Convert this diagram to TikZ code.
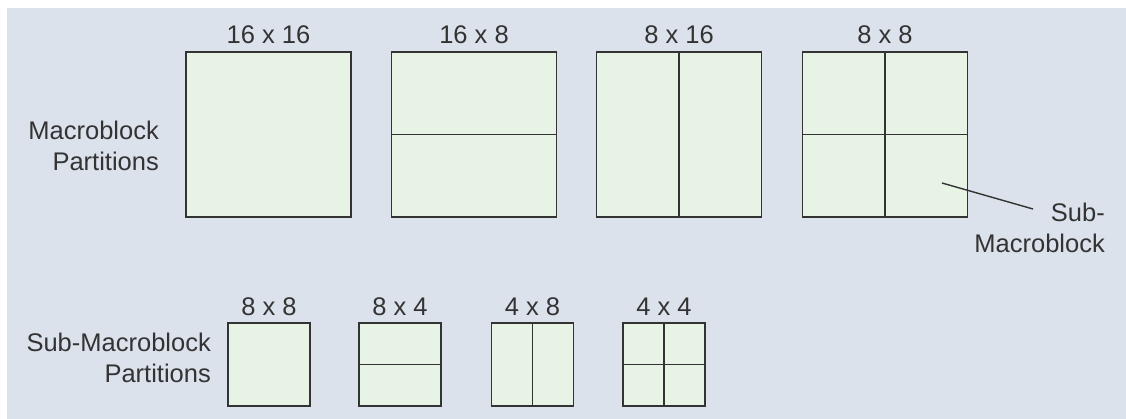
\documentclass[tikz,border=0pt]{standalone}
\usepackage{fontspec}
\setmainfont{Liberation Sans}
\definecolor{panel}{HTML}{DCE2EC}
\definecolor{blockfill}{HTML}{E6F3E5}
\definecolor{ink}{HTML}{333333}
\begin{document}
\begin{tikzpicture}[x=1pt,y=-1pt,
  blk/.style={draw=ink,fill=blockfill,line width=1.7pt,inner sep=0pt,outer sep=0pt},
  bigblk/.style={blk,minimum width=165pt,minimum height=165pt},
  smallblk/.style={blk,minimum width=82pt,minimum height=83pt},
  divider/.style={draw=ink,line width=1.5pt},
  lbl/.style={text=ink,font=\fontsize{25.5}{31}\selectfont,inner sep=0pt}]
\useasboundingbox (0,0) rectangle (1126,419);
\fill[panel] (7,8) rectangle (1126,419);
% macroblock partitions
\node[bigblk] (m1) at (268.5,134.5) {};
\node[bigblk] (m2) at (474,134.5) {};
\node[bigblk] (m3) at (679,134.5) {};
\node[bigblk] (m4) at (885,134.5) {};
\draw[divider] (m2.west) -- (m2.east);
\draw[divider] (m3.north) -- (m3.south);
\draw[divider] (m4.west) -- (m4.east);
\draw[divider] (m4.north) -- (m4.south);
\node[lbl,anchor=base] (t1) at (268.5,44) {16 x 16};
\node[lbl,anchor=base] (t2) at (474,44) {16 x 8};
\node[lbl,anchor=base] (t3) at (679,44) {8 x 16};
\node[lbl,anchor=base] (t4) at (885,44) {8 x 8};
\node[lbl,align=right,anchor=north east] (ml) at (159,121) {Macroblock\\Partitions};
% sub-macroblock callout
\node[lbl,align=right,anchor=north east] (sm) at (1105,202.5) {Sub-\\Macroblock};
\coordinate (p) at (942,183);
\coordinate (q) at (1033,209);
\draw[draw=ink,line width=1.4pt] (p) -- (q);
% sub-macroblock partitions
\node[smallblk] (s1) at (269,364.5) {};
\node[smallblk] (s2) at (400,364.5) {};
\node[smallblk] (s3) at (532.5,364.5) {};
\node[smallblk] (s4) at (664,364.5) {};
\draw[divider] (s2.west) -- (s2.east);
\draw[divider] (s3.north) -- (s3.south);
\draw[divider] (s4.west) -- (s4.east);
\draw[divider] (s4.north) -- (s4.south);
\node[lbl,anchor=base] (u1) at (269,316) {8 x 8};
\node[lbl,anchor=base] (u2) at (400,316) {8 x 4};
\node[lbl,anchor=base] (u3) at (532.5,316) {4 x 8};
\node[lbl,anchor=base] (u4) at (664,316) {4 x 4};
\node[lbl,align=right,anchor=north east] (sl) at (211,333) {Sub-Macroblock\\Partitions};
\end{tikzpicture}
\end{document}
